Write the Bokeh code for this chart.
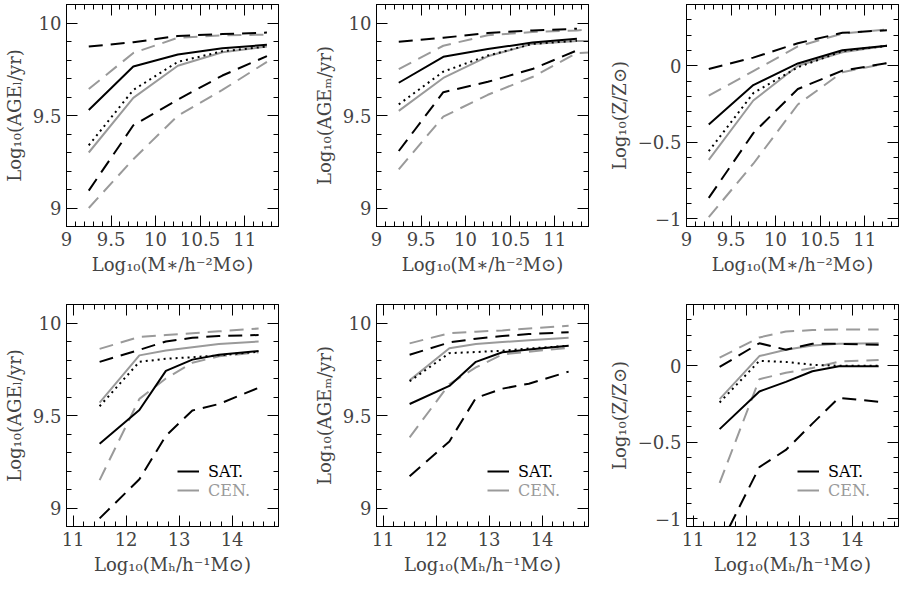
from bokeh.plotting import figure
from bokeh.layouts import column, row
from bokeh.models import (Range1d, LinearAxis, SingleIntervalTicker,
                          CustomJSTickFormatter, Legend, LegendItem)
from bokeh.embed import file_html
from bokeh.resources import INLINE

FONT = "DejaVu Serif"
BLACK = "#000000"
GRAY = "#9a9a9a"

# ---------------- data ----------------
mstar = [9.25, 9.75, 10.25, 10.75, 11.25]
mstar_ext = [9.25, 9.75, 10.25, 10.75, 11.25, 11.75]
mhalo = [11.5, 12.25, 12.75, 13.25, 13.75, 14.5]

sat_med_L = [9.53, 9.765, 9.83, 9.864, 9.882]
sat_hi_L = [9.873, 9.896, 9.93, 9.94, 9.948]
sat_lo_L = [9.094, 9.447, 9.586, 9.716, 9.821]
cen_med_L = [9.30, 9.595, 9.769, 9.842, 9.873]
cen_hi_L = [9.643, 9.838, 9.92, 9.933, 9.937]
cen_lo_L = [9.0, 9.264, 9.499, 9.638, 9.79]
all_med_L = [9.339, 9.638, 9.79, 9.847, 9.873]

sat_med_M = [9.677, 9.817, 9.859, 9.894, 9.915]
sat_hi_M = [9.899, 9.92, 9.946, 9.96, 9.969]
sat_lo_M = [9.308, 9.626, 9.682, 9.751, 9.852]
cen_med_M = [9.525, 9.703, 9.82, 9.887, 9.903, 9.90]
cen_hi_M = [9.751, 9.877, 9.934, 9.951, 9.96, 9.975]
cen_lo_M = [9.209, 9.494, 9.612, 9.708, 9.838, 9.845]
all_med_M = [9.56, 9.737, 9.824, 9.887, 9.904]

sat_med_Z = [-0.383, -0.126, 0.015, 0.101, 0.131]
sat_hi_Z = [-0.021, 0.053, 0.147, 0.215, 0.232]
sat_lo_Z = [-0.863, -0.44, -0.152, -0.032, 0.017]
cen_med_Z = [-0.615, -0.227, 0.0, 0.088, 0.13]
cen_hi_Z = [-0.196, -0.035, 0.126, 0.21, 0.236]
cen_lo_Z = [-0.989, -0.64, -0.253, -0.042, 0.017]
all_med_Z = [-0.558, -0.179, -0.01, 0.095, 0.13]

sat_med_Lh = [9.347, 9.53, 9.741, 9.802, 9.828, 9.848]
sat_hi_Lh = [9.79, 9.855, 9.90, 9.92, 9.93, 9.935]
sat_lo_Lh = [8.944, 9.155, 9.39, 9.527, 9.562, 9.65]
cen_med_Lh = [9.57, 9.825, 9.851, 9.869, 9.886, 9.90]
cen_hi_Lh = [9.86, 9.925, 9.935, 9.945, 9.955, 9.97]
cen_lo_Lh = [9.151, 9.59, 9.70, 9.785, 9.82, 9.842]
all_med_Lh = [9.55, 9.79, 9.807, 9.815, 9.825, 9.845]

sat_med_Mh = [9.562, 9.66, 9.79, 9.842, 9.857, 9.877]
sat_hi_Mh = [9.828, 9.895, 9.915, 9.93, 9.94, 9.95]
sat_lo_Mh = [9.172, 9.36, 9.595, 9.645, 9.672, 9.737]
cen_med_Mh = [9.69, 9.863, 9.886, 9.897, 9.907, 9.92]
cen_hi_Mh = [9.89, 9.945, 9.953, 9.96, 9.97, 9.985]
cen_lo_Mh = [9.382, 9.67, 9.76, 9.83, 9.845, 9.865]
all_med_Mh = [9.685, 9.837, 9.843, 9.85, 9.862, 9.877]

sat_med_Zh = [-0.414, -0.168, -0.105, -0.036, -0.004, -0.004]
sat_hi_Zh = [-0.008, 0.147, 0.105, 0.143, 0.143, 0.137]
sat_lo_Zh = [-1.18, -0.662, -0.55, -0.378, -0.21, -0.235]
cen_med_Zh = [-0.218, 0.063, 0.105, 0.132, 0.143, 0.147]
cen_hi_Zh = [0.053, 0.185, 0.223, 0.233, 0.237, 0.237]
cen_lo_Zh = [-0.765, -0.088, -0.046, -0.015, 0.027, 0.038]
all_med_Zh = [-0.24, 0.032, 0.025, 0.006, 0.0, 0.0]

labels_y = ["Log\u2081\u2080(AGE\u2097/yr)", "Log\u2081\u2080(AGE\u2098/yr)", "Log\u2081\u2080(Z/Z\u2299)"]
label_x_top = "Log\u2081\u2080(M\u2217/h\u207b\u00b2M\u2299)"
label_x_bot = "Log\u2081\u2080(M\u2095/h\u207b\u00b9M\u2299)"

AGE_RANGE = (8.9, 10.1)
Z_RANGE = (-1.05, 0.4)
MSTAR_RANGE = (9.0, 11.38)
MHALO_RANGE = (10.875, 14.875)

FW, FH = 212, 222
DASH = "14 8"
DOT = "2 4"

NUM_CODE = ("var v = Math.round(tick*100)/100;"
            "return (v < 0 ? '\u2212' : '') + Math.abs(v).toString();")


def ticker(interval, nminor):
    return SingleIntervalTicker(interval=interval, num_minor_ticks=nminor)


def style_axis(ax, labels):
    ax.major_tick_in = 11
    ax.major_tick_out = 0
    ax.minor_tick_in = 5
    ax.minor_tick_out = 0
    ax.axis_line_color = BLACK
    ax.major_tick_line_color = BLACK
    ax.minor_tick_line_color = BLACK
    ax.major_label_text_font = FONT
    ax.major_label_text_font_size = "18px"
    ax.axis_label_text_font = FONT
    ax.axis_label_text_font_size = "18px"
    ax.axis_label_text_font_style = "normal"
    if labels:
        ax.formatter = CustomJSTickFormatter(code=NUM_CODE)
    else:
        ax.formatter = CustomJSTickFormatter(code="return '';")
        ax.major_label_standoff = 0


def panel(xr, yr, xint, xminor, yint, yminor, xlabel, ylabel, lb, rb, tb, bb):
    p = figure(x_range=Range1d(*xr), y_range=Range1d(*yr),
               frame_width=FW, frame_height=FH,
               x_axis_type=None, y_axis_type=None,
               output_backend="svg", toolbar_location=None,
               min_border_left=lb, min_border_right=rb,
               min_border_top=tb, min_border_bottom=bb)
    p.outline_line_color = BLACK

    xb = LinearAxis(ticker=ticker(xint, xminor), axis_label=xlabel)
    style_axis(xb, True)
    p.add_layout(xb, "below")
    xa = LinearAxis(ticker=ticker(xint, xminor))
    style_axis(xa, False)
    p.add_layout(xa, "above")
    yl = LinearAxis(ticker=ticker(yint, yminor), axis_label=ylabel)
    style_axis(yl, True)
    p.add_layout(yl, "left")
    yr_ax = LinearAxis(ticker=ticker(yint, yminor))
    style_axis(yr_ax, False)
    p.add_layout(yr_ax, "right")
    return p


def draw(p, xs, xc, sat_med, sat_hi, sat_lo, cen_med, cen_hi, cen_lo, all_med, legend):
    p.line(xc[:len(cen_hi)], cen_hi, line_color=GRAY, line_width=2, line_dash=DASH)
    p.line(xc[:len(cen_lo)], cen_lo, line_color=GRAY, line_width=2, line_dash=DASH)
    r_cen = p.line(xc[:len(cen_med)], cen_med, line_color=GRAY, line_width=2)
    p.line(xs, sat_hi, line_color=BLACK, line_width=2, line_dash=DASH)
    p.line(xs, sat_lo, line_color=BLACK, line_width=2, line_dash=DASH)
    p.line(xs, all_med, line_color=BLACK, line_width=2, line_dash=DOT)
    r_sat = p.line(xs, sat_med, line_color=BLACK, line_width=2)
    if legend:
        for lab, rend, col, yoff in (("SAT.", r_sat, BLACK, 45), ("CEN.", r_cen, GRAY, 26)):
            lg = Legend(items=[LegendItem(label=lab, renderers=[rend])],
                        location=(111, yoff), orientation="vertical",
                        border_line_color=None, background_fill_alpha=0,
                        padding=0, margin=0, spacing=0,
                        glyph_width=22, glyph_height=20, label_height=20,
                        label_standoff=9,
                        label_text_font=FONT, label_text_font_size="16px",
                        label_text_color=col)
            p.add_layout(lg, "center")


p1 = panel(MSTAR_RANGE, AGE_RANGE, 0.5, 5, 0.5, 5, label_x_top, labels_y[0], 60, 28, 4, 56)
draw(p1, mstar, mstar, sat_med_L, sat_hi_L, sat_lo_L, cen_med_L, cen_hi_L, cen_lo_L, all_med_L, False)
p2 = panel(MSTAR_RANGE, AGE_RANGE, 0.5, 5, 0.5, 5, label_x_top, labels_y[1], 70, 14, 4, 56)
draw(p2, mstar, mstar_ext, sat_med_M, sat_hi_M, sat_lo_M, cen_med_M, cen_hi_M, cen_lo_M, all_med_M, False)
p3 = panel(MSTAR_RANGE, Z_RANGE, 0.5, 5, 0.5, 5, label_x_top, labels_y[2], 84, 4, 4, 56)
draw(p3, mstar, mstar, sat_med_Z, sat_hi_Z, sat_lo_Z, cen_med_Z, cen_hi_Z, cen_lo_Z, all_med_Z, False)

p4 = panel(MHALO_RANGE, AGE_RANGE, 1, 5, 0.5, 5, label_x_bot, labels_y[0], 60, 28, 22, 54)
draw(p4, mhalo, mhalo, sat_med_Lh, sat_hi_Lh, sat_lo_Lh, cen_med_Lh, cen_hi_Lh, cen_lo_Lh, all_med_Lh, True)
p5 = panel(MHALO_RANGE, AGE_RANGE, 1, 5, 0.5, 5, label_x_bot, labels_y[1], 70, 14, 22, 54)
draw(p5, mhalo, mhalo, sat_med_Mh, sat_hi_Mh, sat_lo_Mh, cen_med_Mh, cen_hi_Mh, cen_lo_Mh, all_med_Mh, True)
p6 = panel(MHALO_RANGE, Z_RANGE, 1, 5, 0.5, 5, label_x_bot, labels_y[2], 84, 4, 22, 54)
draw(p6, mhalo, mhalo, sat_med_Zh, sat_hi_Zh, sat_lo_Zh, cen_med_Zh, cen_hi_Zh, cen_lo_Zh, all_med_Zh, True)

layout = column(row(p1, p2, p3), row(p4, p5, p6))
open("out.html", "w").write(file_html(layout, INLINE))
